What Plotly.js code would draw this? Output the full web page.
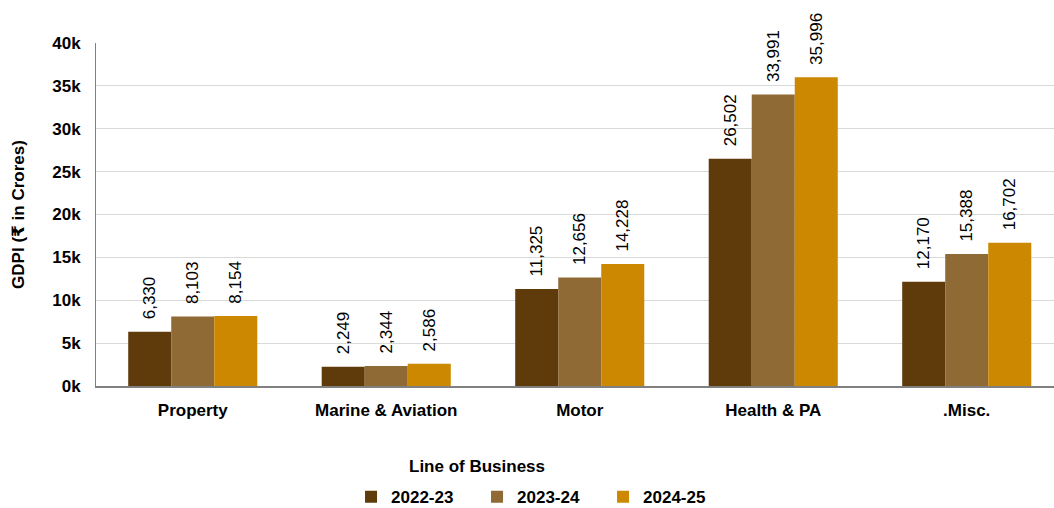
<!DOCTYPE html>
<html>
<head>
<meta charset="utf-8">
<script src="https://cdn.plot.ly/plotly-3.0.1.min.js"></script>
<style>
  html, body { margin: 0; padding: 0; background: #ffffff; }
  #chart { width: 1054px; height: 508px; }
</style>
</head>
<body>
<div id="chart"></div>
<script>
// Gross Direct Premium Income by line of business (₹ in Crores)
const categories = ["Property", "Marine & Aviation", "Motor", "Health & PA", ".Misc."];
const years = ["2022-23", "2023-24", "2024-25"];
const gdpi2022 = [6330, 2249, 11325, 26502, 12170];
const gdpi2023 = [8103, 2344, 12656, 33991, 15388];
const gdpi2024 = [8154, 2586, 14228, 35996, 16702];
const yTickVals = [0, 5000, 10000, 15000, 20000, 25000, 30000, 35000, 40000];
const yTickText = ["0k", "5k", "10k", "15k", "20k", "25k", "30k", "35k", "40k"];
const xTitle = "Line of Business";
const yTitle = "GDPI (₹ in Crores)";

const colors = ["#5f3a0b", "#8f6a35", "#cc8800"];
const series = [gdpi2022, gdpi2023, gdpi2024];
const fontFamily = "'Liberation Sans', Arial, 'DejaVu Sans', sans-serif";
const NBSP = "\u00a0";

const traces = series.map((vals, i) => ({
  type: "bar",
  name: years[i],
  x: categories,
  y: vals,
  marker: { color: colors[i], line: { width: 0 } },
  // leading non-breaking spaces lift the rotated value label off the bar top
  text: vals.map(v => NBSP + NBSP + v.toLocaleString("en-US")),
  textposition: "outside",
  textangle: -90,
  constraintext: "none",
  cliponaxis: false,
  outsidetextfont: { family: fontFamily, size: 17, color: "#000000" },
  hoverinfo: "x+y+name"
}));

const boldFont = { family: fontFamily, size: 17, color: "#000000", weight: "bold" };

const layout = {
  width: 1054,
  height: 508,
  margin: { l: 96, r: 0, t: 43, b: 122, autoexpand: false },
  paper_bgcolor: "#ffffff",
  plot_bgcolor: "#ffffff",
  font: { family: fontFamily, color: "#000000" },
  barmode: "group",
  bargap: 0.333,
  bargroupgap: 0,
  showlegend: true,
  legend: {
    orientation: "h",
    x: 0.4635,
    xanchor: "center",
    y: -0.324,
    yanchor: "middle",
    font: boldFont,
    entrywidth: 81,
    entrywidthmode: "pixels",
    itemwidth: 30,
    traceorder: "normal"
  },
  // category-axis title sits left of the plot centre, so it is placed as an annotation
  annotations: [{
    text: xTitle,
    xref: "paper",
    yref: "paper",
    x: 0.3977,
    y: -0.236,
    xanchor: "center",
    yanchor: "middle",
    showarrow: false,
    font: boldFont
  }],
  xaxis: {
    type: "category",
    range: [-0.5, 4.451],
    showgrid: false,
    showline: true,
    linecolor: "#808080",
    linewidth: 1.5,
    ticks: "",
    ticklabelstandoff: 8,
    tickfont: boldFont,
    automargin: false
  },
  yaxis: {
    range: [0, 40000],
    tickvals: yTickVals,
    ticktext: yTickText,
    showgrid: true,
    gridcolor: "#d9d9d9",
    gridwidth: 1,
    showline: true,
    linecolor: "#808080",
    linewidth: 1,
    zeroline: false,
    ticks: "",
    ticklabelstandoff: 11,
    tickfont: boldFont,
    title: {
      text: yTitle,
      font: boldFont,
      standoff: 23
    },
    automargin: false
  }
};

Plotly.newPlot("chart", traces, layout, { displayModeBar: false, staticPlot: true });
</script>
</body>
</html>
